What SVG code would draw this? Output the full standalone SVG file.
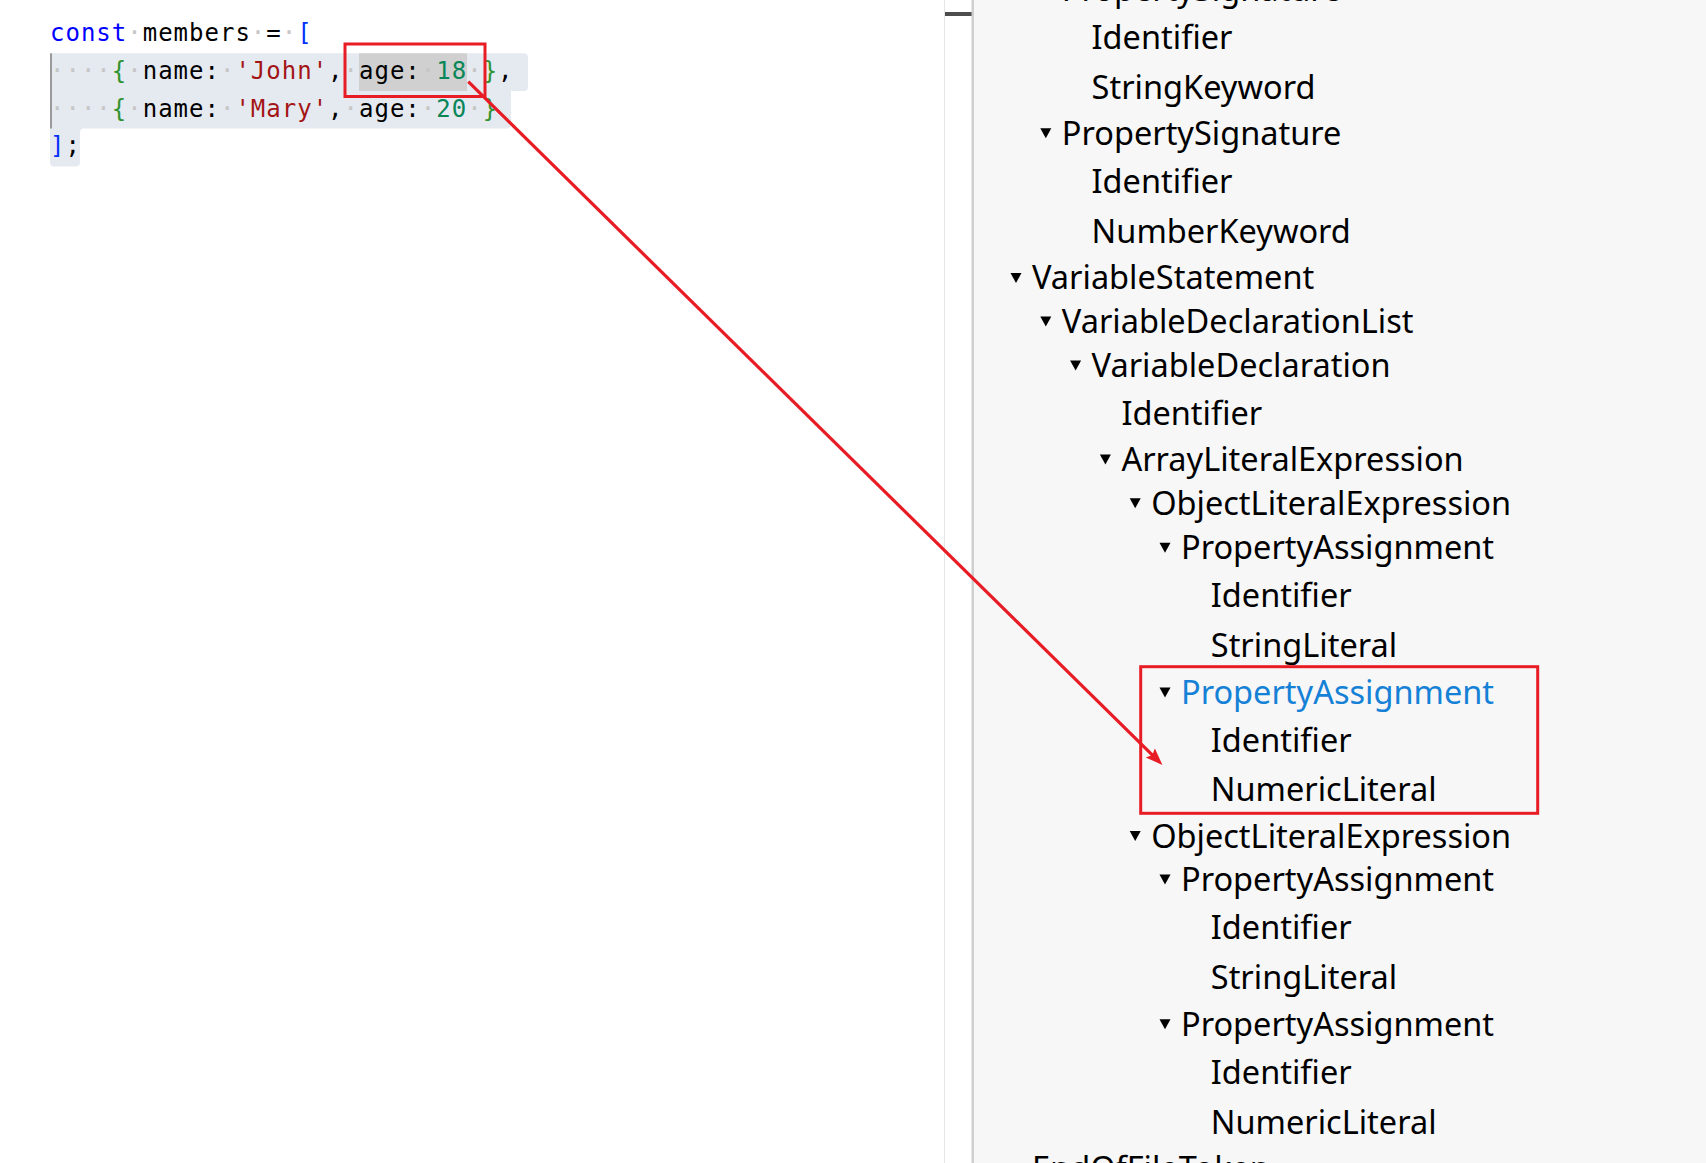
<svg xmlns="http://www.w3.org/2000/svg" width="1706" height="1163" viewBox="0 0 1706 1163">
<style>
.code{font-family:"DejaVu Sans Mono","Liberation Mono",monospace;font-size:24px;letter-spacing:1px;fill:#000}
.kw{fill:#0000ff}.br1{fill:#0431fa}.br2{fill:#319331}.str{fill:#a31515}.num{fill:#098658}.ws{fill:#c6c6c6}
.tree{font-family:"Noto Sans","Open Sans",sans-serif;font-size:32.5px;fill:#000}
.sel{fill:#1581d6}
.tri{fill:#000}
.hl{fill:none;stroke:#e81c24;stroke-width:3}
.conn{fill:none;stroke:#e81c24;stroke-width:3.2}
</style>
<defs>
<marker id="ah" markerUnits="userSpaceOnUse" markerWidth="18" markerHeight="14" refX="8" refY="6.5" orient="auto">
<path d="M0,0 L17,6.5 L0,13 L3,6.5 z" fill="#e81c24"/>
</marker>
</defs>
<rect x="0" y="0" width="1706" height="1163" fill="#ffffff"/>
<g id="panel-divider">
<rect x="944" y="0" width="1" height="1163" fill="#e6e6e6"/>
<rect x="945" y="12" width="27" height="4" fill="#4d4d4d"/>
<rect x="971.5" y="0" width="2.5" height="1163" fill="#cfcfcf"/>
<rect x="974" y="0" width="732" height="1163" fill="#f7f7f8"/>
</g>
<g id="code-editor">
<path d="M50,53.3 H524 Q528,53.3 528,57.3 V87 Q528,91 524,91 H511 V124.5 Q511,128.5 507,128.5 H84 Q80,128.5 80,132.5 V162.5 Q80,166.5 76,166.5 H54 Q50,166.5 50,162.5 Z" fill="#e5eaf1"/>
<rect x="359" y="53.3" width="108" height="37.7" fill="#d0d0d0"/>
<rect x="50" y="53.3" width="2" height="75.2" fill="#999999"/>
<text class="code" x="50" y="41.3"><tspan class="kw">const</tspan><tspan class="ws">·</tspan>members<tspan class="ws">·</tspan>=<tspan class="ws">·</tspan><tspan class="br1">[</tspan></text>
<text class="code" x="50" y="79"><tspan class="ws">····</tspan><tspan class="br2">{</tspan><tspan class="ws">·</tspan>name:<tspan class="ws">·</tspan><tspan class="str">'John'</tspan>,<tspan class="ws">·</tspan>age:<tspan class="ws">·</tspan><tspan class="num">18</tspan><tspan class="ws">·</tspan><tspan class="br2">}</tspan>,</text>
<text class="code" x="50" y="116.7"><tspan class="ws">····</tspan><tspan class="br2">{</tspan><tspan class="ws">·</tspan>name:<tspan class="ws">·</tspan><tspan class="str">'Mary'</tspan>,<tspan class="ws">·</tspan>age:<tspan class="ws">·</tspan><tspan class="num">20</tspan><tspan class="ws">·</tspan><tspan class="br2">}</tspan></text>
<text class="code" x="50" y="154.4"><tspan class="br1">]</tspan>;</text>
</g>
<g id="code-highlight"><rect class="hl" x="345" y="44" width="140" height="52.5"/></g>
<g id="tree">
<g id="n01"><path class="tri" d="M1040.3,-15.5 h11 l-5.5,10 z"/><text class="tree" x="1061.8" y="1">PropertySignature</text></g>
<g id="n02"><text class="tree" x="1091.6" y="49">Identifier</text></g>
<g id="n03"><text class="tree" x="1091.6" y="99">StringKeyword</text></g>
<g id="n04"><path class="tri" d="M1040.3,128.2 h11 l-5.5,10 z"/><text class="tree" x="1061.8" y="144.7">PropertySignature</text></g>
<g id="n05"><text class="tree" x="1091.6" y="192.6">Identifier</text></g>
<g id="n06"><text class="tree" x="1091.6" y="242.7">NumberKeyword</text></g>
<g id="n07"><path class="tri" d="M1010.5,272.9 h11 l-5.5,10 z"/><text class="tree" x="1032" y="289.4">VariableStatement</text></g>
<g id="n08"><path class="tri" d="M1040.3,316.5 h11 l-5.5,10 z"/><text class="tree" x="1061.8" y="333">VariableDeclarationList</text></g>
<g id="n09"><path class="tri" d="M1070.1,360.5 h11 l-5.5,10 z"/><text class="tree" x="1091.6" y="377">VariableDeclaration</text></g>
<g id="n10"><text class="tree" x="1121.4" y="425">Identifier</text></g>
<g id="n11"><path class="tri" d="M1099.9,454.5 h11 l-5.5,10 z"/><text class="tree" x="1121.4" y="471">ArrayLiteralExpression</text></g>
<g id="n12"><path class="tri" d="M1129.7,498.2 h11 l-5.5,10 z"/><text class="tree" x="1151.2" y="514.7">ObjectLiteralExpression</text></g>
<g id="n13"><path class="tri" d="M1159.5,542.8 h11 l-5.5,10 z"/><text class="tree" x="1181" y="559.3">PropertyAssignment</text></g>
<g id="n14"><text class="tree" x="1210.8" y="607">Identifier</text></g>
<g id="n15"><text class="tree" x="1210.8" y="657">StringLiteral</text></g>
<g id="n16"><path class="tri" d="M1159.5,687.5 h11 l-5.5,10 z"/><text class="tree sel" x="1181" y="704">PropertyAssignment</text></g>
<g id="n17"><text class="tree" x="1210.8" y="752">Identifier</text></g>
<g id="n18"><text class="tree" x="1210.8" y="801">NumericLiteral</text></g>
<g id="n19"><path class="tri" d="M1129.7,831.1 h11 l-5.5,10 z"/><text class="tree" x="1151.2" y="847.6">ObjectLiteralExpression</text></g>
<g id="n20"><path class="tri" d="M1159.5,874.5 h11 l-5.5,10 z"/><text class="tree" x="1181" y="891">PropertyAssignment</text></g>
<g id="n21"><text class="tree" x="1210.8" y="939">Identifier</text></g>
<g id="n22"><text class="tree" x="1210.8" y="989">StringLiteral</text></g>
<g id="n23"><path class="tri" d="M1159.5,1019.3 h11 l-5.5,10 z"/><text class="tree" x="1181" y="1035.8">PropertyAssignment</text></g>
<g id="n24"><text class="tree" x="1210.8" y="1083.7">Identifier</text></g>
<g id="n25"><text class="tree" x="1210.8" y="1133.7">NumericLiteral</text></g>
<g id="n26"><text class="tree" x="1032" y="1180">EndOfFileToken</text></g>
</g>
<g id="tree-highlight"><rect class="hl" x="1140.7" y="666.7" width="397" height="146.6"/></g>
<g id="connectors">
<path class="conn" d="M468.3,81.7 L1156,758.6" marker-end="url(#ah)"/>
</g>
</svg>
